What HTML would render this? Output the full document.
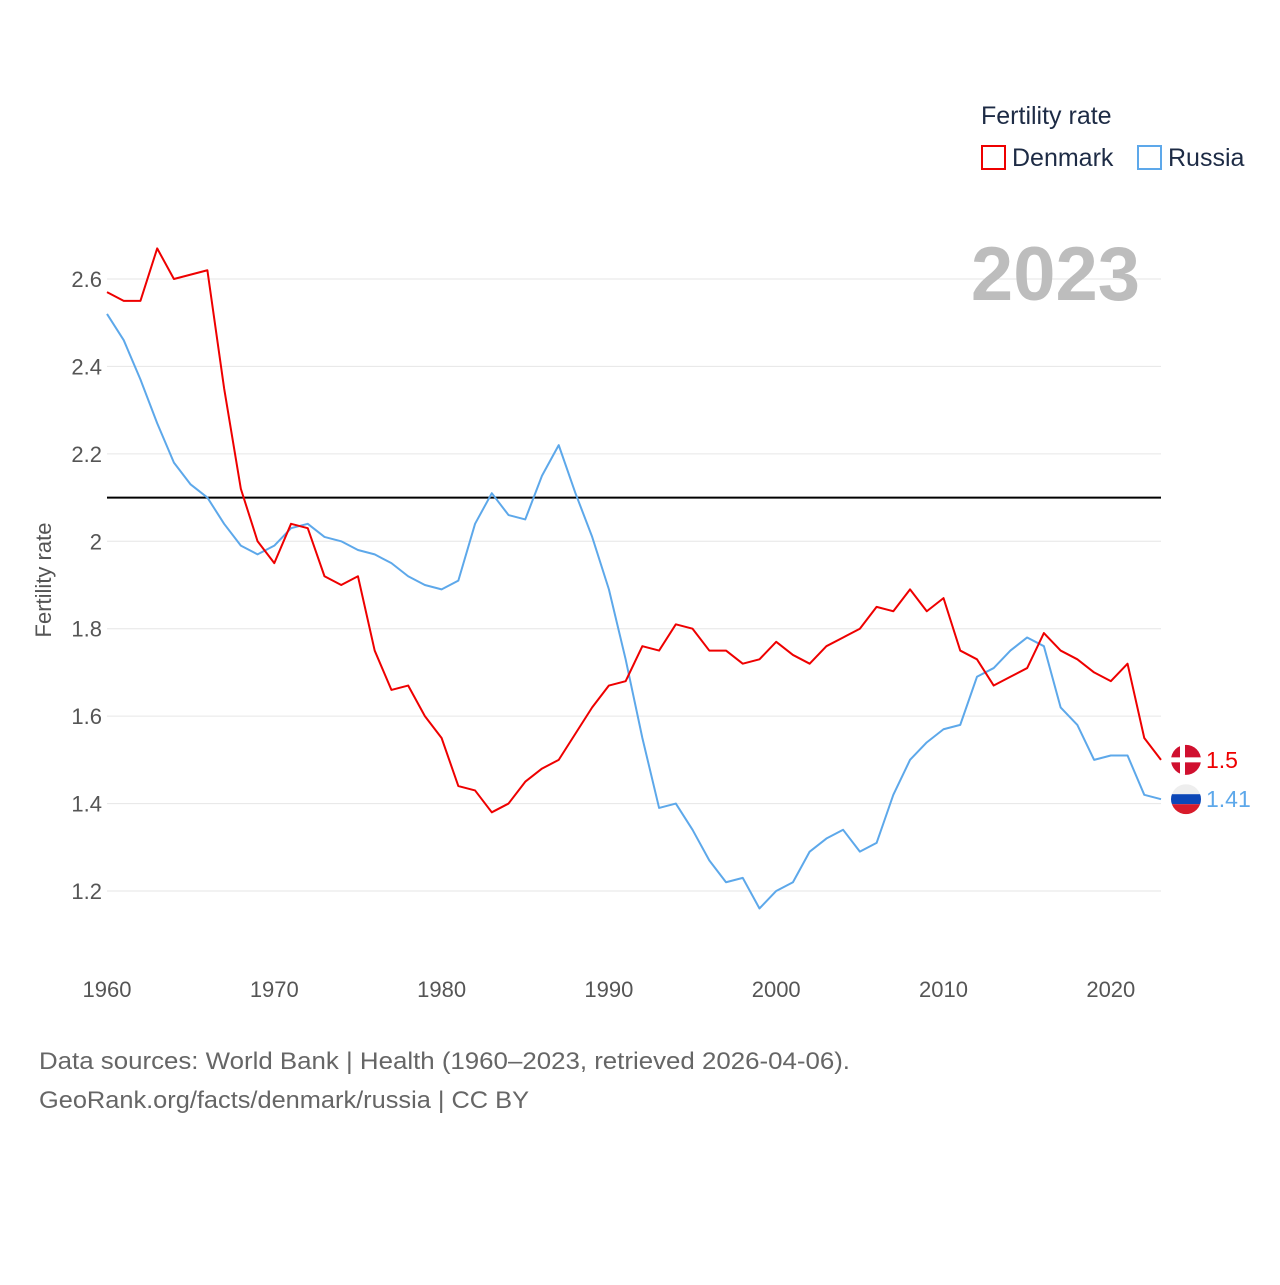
<!DOCTYPE html>
<html><head><meta charset="utf-8"><style>
body{margin:0;background:#fff;width:1280px;height:1280px;overflow:hidden;font-family:"Liberation Sans",sans-serif}
</style></head><body>
<svg width="1280" height="1280">
<g id="grid"></g>
<g id="marks"></g>
<text x="981" y="124" font-size="25" fill="#1d2b45">Fertility rate</text>
<rect x="982" y="146" width="23" height="23" fill="none" stroke="#ee0000" stroke-width="2"/>
<text x="1012" y="166" font-size="25" fill="#1d2b45">Denmark</text>
<rect x="1138" y="146" width="23" height="23" fill="none" stroke="#5da8ea" stroke-width="2"/>
<text x="1168" y="166" font-size="25" fill="#1d2b45">Russia</text>
<text x="1140" y="300" font-size="76" font-weight="bold" fill="#bdbdbd" text-anchor="end">2023</text>
<text transform="translate(51,580) rotate(-90)" font-size="22" fill="#555" text-anchor="middle">Fertility rate</text>
<text x="39" y="1069" font-size="24" fill="#666" textLength="811" lengthAdjust="spacingAndGlyphs">Data sources: World Bank | Health (1960–2023, retrieved 2026-04-06).</text>
<text x="39" y="1108" font-size="24" fill="#666" textLength="490" lengthAdjust="spacingAndGlyphs">GeoRank.org/facts/denmark/russia | CC BY</text>
</svg>
<script>
const years=[];for(let y=1960;y<=2023;y++)years.push(y);
const denmark=[2.57,2.55,2.55,2.67,2.60,2.61,2.62,2.35,2.12,2.00,1.95,2.04,2.03,1.92,1.90,1.92,1.75,1.66,1.67,1.60,1.55,1.44,1.43,1.38,1.40,1.45,1.48,1.50,1.56,1.62,1.67,1.68,1.76,1.75,1.81,1.80,1.75,1.75,1.72,1.73,1.77,1.74,1.72,1.76,1.78,1.80,1.85,1.84,1.89,1.84,1.87,1.75,1.73,1.67,1.69,1.71,1.79,1.75,1.73,1.70,1.68,1.72,1.55,1.50];
const russia=[2.52,2.46,2.37,2.27,2.18,2.13,2.10,2.04,1.99,1.97,1.99,2.03,2.04,2.01,2.00,1.98,1.97,1.95,1.92,1.90,1.89,1.91,2.04,2.11,2.06,2.05,2.15,2.22,2.11,2.01,1.89,1.73,1.55,1.39,1.40,1.34,1.27,1.22,1.23,1.16,1.20,1.22,1.29,1.32,1.34,1.29,1.31,1.42,1.50,1.54,1.57,1.58,1.69,1.71,1.75,1.78,1.76,1.62,1.58,1.50,1.51,1.51,1.42,1.41];
const yTicks=[1.2,1.4,1.6,1.8,2.0,2.2,2.4,2.6];
const yTickLabels=["1.2","1.4","1.6","1.8","2","2.2","2.4","2.6"];
const xTicks=[1960,1970,1980,1990,2000,2010,2020];
const replacement=2.1;
const NS="http://www.w3.org/2000/svg";
const X=y=>107+(y-1960)*(1161-107)/63;
const Y=v=>279+(2.6-v)*437.14;
const grid=document.getElementById('grid'),marks=document.getElementById('marks');
function mk(p,tag,a){const e=document.createElementNS(NS,tag);for(const k in a)e.setAttribute(k,a[k]);p.appendChild(e);return e;}
yTicks.forEach((t,i)=>{
 const l=mk(grid,'line',{x1:107,x2:1161,y1:Y(t),y2:Y(t),stroke:'#e6e6e6','stroke-width':1});
 
 
 const tx=mk(grid,'text',{x:102,y:Y(t)+8,'font-size':22,fill:'#555','text-anchor':'end'});tx.textContent=yTickLabels[i];
 
 
});
xTicks.forEach(t=>{
 const tx=mk(grid,'text',{x:X(t),y:997,'font-size':22,fill:'#555','text-anchor':'middle'});tx.textContent=t;
 
 
});
const rl=mk(marks,'line',{x1:107,x2:1161,y1:Y(replacement),y2:Y(replacement),stroke:'#000','stroke-width':2});


function series(vals,col,name){
 const p=mk(marks,'polyline',{points:vals.map((v,i)=>X(years[i])+','+Y(v)).join(' '),fill:'none',stroke:col,'stroke-width':2,'stroke-linejoin':'round'});
 
 
}
series(russia,'#5da8ea','russia');
series(denmark,'#ee0000','denmark');
const dy=Y(denmark[63]),ry=Y(russia[63]);
const fd=mk(marks,'g',{});


mk(fd,'circle',{cx:1186,cy:dy,r:15,fill:'#d0102f'});
mk(fd,'rect',{x:1171,y:dy-2.5,width:30,height:5,fill:'#fff'});
mk(fd,'rect',{x:1180,y:dy-15,width:5,height:30,fill:'#fff'});
const fr=mk(marks,'g',{});


mk(fr,'clipPath',{id:'rc'});mk(fr.lastChild,'circle',{cx:1186,cy:ry,r:15});
mk(fr,'rect',{x:1171,y:ry-15,width:30,height:10,fill:'#eee','clip-path':'url(#rc)'});
mk(fr,'rect',{x:1171,y:ry-5,width:30,height:10,fill:'#0c47b7','clip-path':'url(#rc)'});
mk(fr,'rect',{x:1171,y:ry+5,width:30,height:10,fill:'#d81b2b','clip-path':'url(#rc)'});
const ld=mk(marks,'text',{x:1206,y:dy+8,'font-size':23,fill:'#ee0000'});ld.textContent=denmark[63];


const lr=mk(marks,'text',{x:1206,y:ry+8,'font-size':23,fill:'#5da8ea'});lr.textContent=russia[63];


</script>
</body></html>
